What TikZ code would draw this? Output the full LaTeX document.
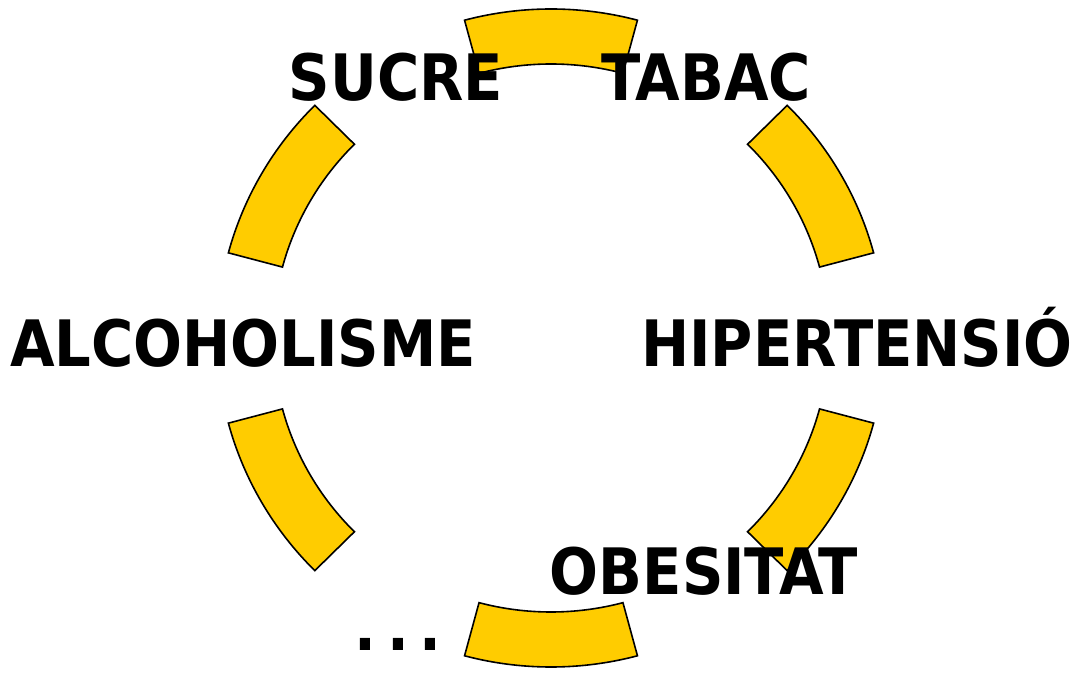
\documentclass[tikz,border=0pt]{standalone}
\usepackage{fontspec}
\setmainfont{DejaVu Sans Condensed}
\definecolor{groc}{HTML}{FFCC00}
\begin{document}
\begin{tikzpicture}[x=1pt,y=1pt,
  piece/.style={fill=groc,draw=black,line width=1.6pt},
  lbl/.style={font=\fontsize{64}{72}\selectfont\bfseries,anchor=base,inner sep=0pt}]
\useasboundingbox (0,0) rectangle (1081,677);
\coordinate (c) at (551,339);
% anell de sis trossos
\foreach \a in {90,30,-30,-90,-150,150}
  \filldraw[piece] ([shift={(\a-15:334 and 329)}]c)
    arc[start angle=\a-15,end angle=\a+15,x radius=334pt,y radius=329pt]
    -- ([shift={(\a+15:278 and 274)}]c)
    arc[start angle=\a+15,end angle=\a-15,x radius=278pt,y radius=274pt] -- cycle;
% etiquetes
\node[lbl] (sucre)       at (396,576) {SUCRE};
\node[lbl] (tabac)       at (706,576) {TABAC};
\node[lbl] (hipertensio) at (857,310) {HIPERTENSIÓ};
\node[lbl] (alcoholisme) at (243,310) {ALCOHOLISME};
\node[lbl] (obesitat)    at (704,82)  {OBESITAT};
\node[lbl] (punts)       at (398,27)  {.\hspace{11pt}.\hspace{11pt}.};
\end{tikzpicture}
\end{document}
